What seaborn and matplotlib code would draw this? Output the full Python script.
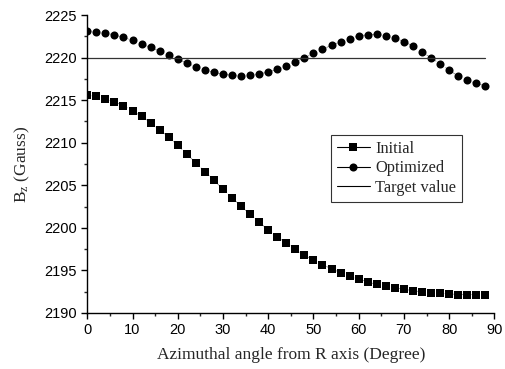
import numpy as np
import pandas as pd
import matplotlib
matplotlib.use("Agg")
import matplotlib.pyplot as plt
from matplotlib.ticker import MultipleLocator
import seaborn as sns

angles = list(range(0, 90, 2))
initial = [2215.56, 2215.45, 2215.17, 2214.81, 2214.34, 2213.75, 2213.10, 2212.35,
           2211.52, 2210.66, 2209.69, 2208.67, 2207.64, 2206.59, 2205.58, 2204.55,
           2203.53, 2202.56, 2201.58, 2200.66, 2199.77, 2198.94, 2198.20, 2197.47,
           2196.80, 2196.21, 2195.66, 2195.19, 2194.72, 2194.29, 2193.98, 2193.63,
           2193.36, 2193.12, 2192.96, 2192.80, 2192.60, 2192.49, 2192.37, 2192.29,
           2192.25, 2192.16, 2192.14, 2192.14, 2192.14]
optimized = [2223.16, 2223.04, 2222.88, 2222.69, 2222.38, 2222.02, 2221.63, 2221.20,
             2220.77, 2220.26, 2219.83, 2219.36, 2218.93, 2218.57, 2218.27, 2218.07,
             2217.91, 2217.83, 2217.91, 2218.10, 2218.30, 2218.63, 2219.00, 2219.48,
             2219.98, 2220.50, 2220.97, 2221.47, 2221.86, 2222.21, 2222.57, 2222.69,
             2222.77, 2222.57, 2222.30, 2221.90, 2221.36, 2220.69, 2219.98, 2219.28,
             2218.54, 2217.83, 2217.36, 2216.97, 2216.69]
target_value = 2220.0
series_labels = ["Initial", "Optimized", "Target value"]

sns.set_style("ticks")
plt.rcParams["font.family"] = ["Liberation Sans", "DejaVu Sans"]

fig = plt.figure(figsize=(5.06, 3.69), dpi=100)
ax = fig.add_axes([0.1725, 0.152, 0.8045, 0.807])

df = pd.DataFrame({"angle": angles, "Initial": initial, "Optimized": optimized})

sns.lineplot(data=df, x="angle", y="Initial", ax=ax, color="#777777", linewidth=0.5,
             linestyle=(0, (6, 5)), marker="s", markersize=5.2, markeredgewidth=0,
             markerfacecolor="black", label=series_labels[0])
sns.lineplot(data=df, x="angle", y="Optimized", ax=ax, color="#777777", linewidth=0.5,
             linestyle=(0, (6, 5)), marker="o", markersize=5.8, markeredgewidth=0,
             markerfacecolor="black", label=series_labels[1])
tgt = pd.DataFrame({"angle": [angles[0], angles[-1]], "t": [target_value, target_value]})
sns.lineplot(data=tgt, x="angle", y="t", ax=ax, color="#333333", linewidth=0.9,
             label=series_labels[2])

ax.set_xlim(0, 90)
ax.set_ylim(2190, 2225)
ax.xaxis.set_major_locator(MultipleLocator(10))
ax.xaxis.set_minor_locator(MultipleLocator(5))
ax.yaxis.set_major_locator(MultipleLocator(5))
ax.yaxis.set_minor_locator(MultipleLocator(2.5))
ax.tick_params(which="major", direction="out", length=4, width=1, labelsize=10.5, colors="black")
ax.tick_params(which="minor", direction="out", length=2.5, width=1)
for s in ["left", "bottom"]:
    ax.spines[s].set_linewidth(1)
    ax.spines[s].set_color("black")
sns.despine(ax=ax)

serif = ["Liberation Serif", "DejaVu Serif"]
ax.set_xlabel("Azimuthal angle from R axis (Degree)", fontsize=12.5, family=serif, labelpad=7)
ax.set_ylabel(r"$\mathregular{B_z}$ (Gauss)", fontsize=12.5, family=serif, labelpad=9)

leg = ax.legend(loc="upper left", bbox_to_anchor=(0.599, 0.597), borderaxespad=0,
                frameon=True, fancybox=False,
                edgecolor="black", prop={"family": serif, "size": 11.8}, handlelength=2.0,
                handletextpad=0.35, borderpad=0.35, labelspacing=0.22, numpoints=1)
leg.get_frame().set_linewidth(0.8)
for h in leg.get_lines():
    h.set_linestyle("-")
    h.set_linewidth(0.8)
    h.set_color("black")

fig.savefig("out.png", dpi=100)
